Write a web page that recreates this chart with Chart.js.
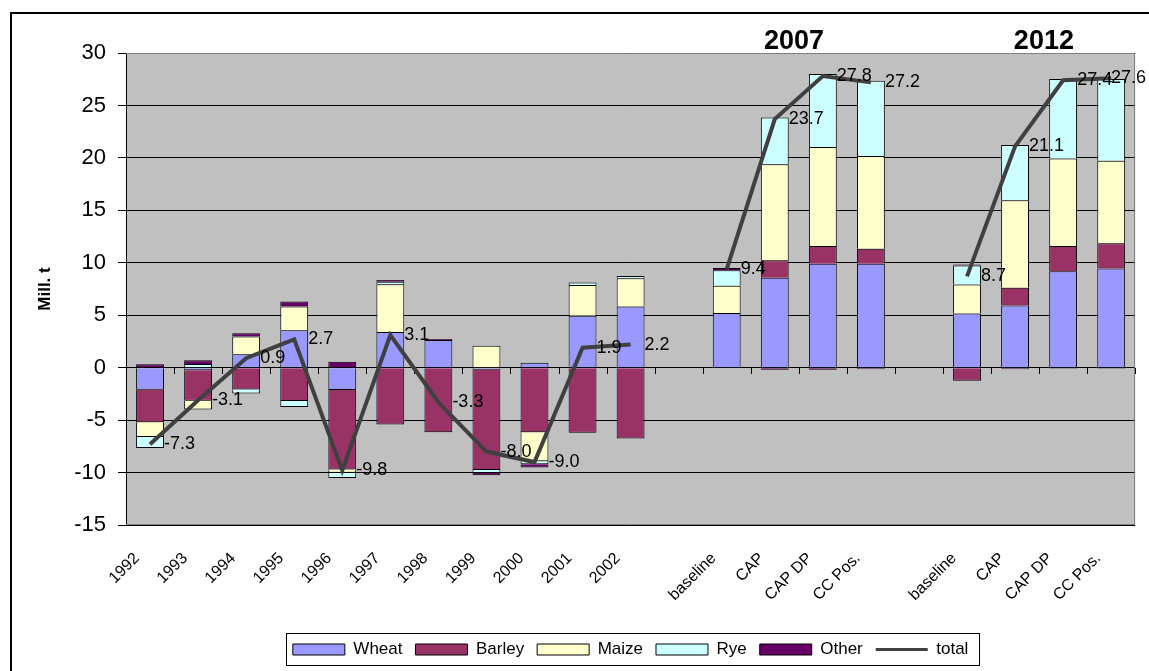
<!DOCTYPE html>
<html lang="en">
<head>
<meta charset="UTF-8">
<title>Change in cereal production</title>
<script src="https://cdn.jsdelivr.net/npm/chart.js@4.4.0/dist/chart.umd.min.js"></script>
<style>
  html, body { margin: 0; padding: 0; background: #fff; }
  #wrap { position: relative; width: 1149px; height: 671px; }
</style>
</head>
<body>
<div id="wrap"><canvas id="grainChart"></canvas></div>
<script>
// categories (empty strings are the gaps between the groups)
const categories = ['1992', '1993', '1994', '1995', '1996', '1997', '1998', '1999', '2000', '2001', '2002', '',
  'baseline', 'CAP', 'CAP DP', 'CC Pos.', '',
  'baseline', 'CAP', 'CAP DP', 'CC Pos.'];

// Mill. t per crop
const wheat  = [-2.1, -0.25, 1.27, 3.57, -2.13, 3.4, 2.64, -0.2, 0.48, 4.94, 5.83, null, 5.22, 8.57, 9.9, 9.9, null, 5.16, 5.92, 9.2, 9.46];
const barley = [-3.1, -2.9, -2.07, -3.18, -7.58, -5.41, -6.15, -9.55, -6.15, -6.21, -6.75, null, 0, 1.66, 1.69, 1.43, null, -1.25, 1.69, 2.39, 2.39];
const maize  = [-1.4, -0.85, 1.7, 2.26, -0.32, 4.55, 0, 2.1, -2.77, 2.93, 2.7, null, 2.6, 9.17, 9.46, 8.85, null, 2.77, 8.34, 8.34, 7.87];
const rye    = [-1.05, 0.35, -0.4, -0.57, -0.48, 0.25, 0, -0.3, -0.3, 0.25, 0.22, null, 1.46, 4.46, 6.94, 7.17, null, 1.8, 5.29, 7.58, 7.8];
const other  = [0.32, 0.35, 0.32, 0.48, 0.57, 0.15, 0.1, -0.2, -0.3, 0, 0, null, 0.22, -0.2, -0.2, -0.15, null, 0.1, -0.15, -0.1, -0.1];
const total  = [-7.3, -3.1, 0.9, 2.7, -9.8, 3.1, -3.3, -8.0, -9.0, 1.9, 2.2, null, 9.4, 23.7, 27.8, 27.2, null, 8.7, 21.1, 27.4, 27.6];

const yTicks = { min: -15, max: 30, step: 5 };
const groupTitles = [{ text: '2007', at: 13.4 }, { text: '2012', at: 18.6 }];

Chart.defaults.font.family = "'Liberation Sans', Arial, sans-serif";
Chart.defaults.color = '#000';

const barSet = (label, data, color) => ({
    type: 'bar', label, data, backgroundColor: color, borderColor: '#000',
    borderWidth: 1, stack: 'crops', order: 1,
    categoryPercentage: 0.58, barPercentage: 1
});

const decor = {
    id: 'decor',
    afterLayout(chart) {
        // centre the legend under the plot area and nudge it up
        const lg = chart.legend, a = chart.chartArea;
        const dx = (a.left + a.right) / 2 - (lg.left + lg.right) / 2;
        lg.left += dx; lg.right += dx;
        lg.top -= 3; lg.bottom -= 3;
    },
    beforeDraw(chart) {
        const { ctx, chartArea: a } = chart;
        ctx.save();
        ctx.fillStyle = '#C0C0C0';
        ctx.fillRect(a.left, a.top, a.right - a.left, a.bottom - a.top);
        ctx.strokeStyle = '#000';
        ctx.lineWidth = 2;
        ctx.beginPath();
        ctx.moveTo(11, chart.height);
        ctx.lineTo(11, 13);
        ctx.lineTo(chart.width, 13);
        ctx.stroke();
        ctx.restore();
    },
    beforeDatasetsDraw(chart) {
        const { ctx, chartArea: a, scales: { x, y } } = chart;
        ctx.save();
        // plot outline
        ctx.strokeStyle = '#808080';
        ctx.lineWidth = 1;
        ctx.beginPath();
        ctx.moveTo(a.left, Math.round(a.top) + 0.5);
        ctx.lineTo(Math.round(a.right) - 0.5, Math.round(a.top) + 0.5);
        ctx.lineTo(Math.round(a.right) - 0.5, Math.round(a.bottom) - 0.5);
        ctx.lineTo(a.left, Math.round(a.bottom) - 0.5);
        ctx.stroke();
        // category ticks on the zero line
        const y0 = Math.round(y.getPixelForValue(0));
        ctx.strokeStyle = '#000';
        ctx.beginPath();
        for (let i = 0; i <= categories.length; i++) {
            const px = Math.round(x.getPixelForValue(i - 0.5)) + 0.5;
            ctx.moveTo(px, y0);
            ctx.lineTo(px, y0 + 6);
        }
        ctx.stroke();
        ctx.restore();
    },
    afterDatasetsDraw(chart) {
        const { ctx, scales: { x } } = chart;
        const meta = chart.getDatasetMeta(5);
        ctx.save();
        ctx.fillStyle = '#000';
        ctx.font = "18px 'Liberation Sans', Arial, sans-serif";
        ctx.textAlign = 'left';
        ctx.textBaseline = 'middle';
        meta.data.forEach((pt, i) => {
            if (total[i] === null) return;
            const txt = total[i].toFixed(1);
            const w = ctx.measureText(txt).width;
            ctx.fillText(txt, Math.min(pt.x + 14, chart.width - 3 - w), pt.y);
        });
        ctx.font = "bold 27px 'Liberation Sans', Arial, sans-serif";
        ctx.textAlign = 'center';
        const step = x.getPixelForValue(1) - x.getPixelForValue(0);
        groupTitles.forEach(g => {
            const base = Math.floor(g.at);
            ctx.fillText(g.text, x.getPixelForValue(base) + (g.at - base) * step, 42);
        });
        ctx.restore();
    },
    afterDraw(chart) {
        const boxes = chart.legend.legendHitBoxes;
        if (!boxes || !boxes.length) return;
        const left = Math.min(...boxes.map(b => b.left)) - 7;
        const right = Math.max(...boxes.map(b => b.left + b.width)) + 10;
        const top = boxes[0].top - 8;
        const ctx = chart.ctx;
        ctx.save();
        ctx.strokeStyle = '#000';
        ctx.lineWidth = 1;
        ctx.strokeRect(Math.round(left) + 0.5, Math.round(top) + 0.5, Math.round(right - left), Math.round(boxes[0].height + 15));
        ctx.restore();
    }
};

new Chart(document.getElementById('grainChart'), {
    data: {
        labels: categories,
        datasets: [
            barSet('Wheat', wheat, '#9999FF'),
            barSet('Barley', barley, '#993366'),
            barSet('Maize', maize, '#FFFFCC'),
            barSet('Rye', rye, '#CCFFFF'),
            barSet('Other', other, '#660066'),
            {
                type: 'line', label: 'total', data: total, stack: 'line', order: 0,
                borderColor: '#404040', backgroundColor: '#404040', borderWidth: 4,
                pointRadius: 0, tension: 0, spanGaps: false
            }
        ]
    },
    options: {
        responsive: true,
        maintainAspectRatio: false,
        animation: false,
        layout: { padding: { left: 10, top: 53, right: 10, bottom: 0 } },
        plugins: {
            tooltip: { enabled: false },
            legend: {
                position: 'bottom',
                labels: {
                    usePointStyle: true,
                    pointStyleWidth: 52,
                    boxHeight: 11,
                    padding: 13,
                    font: { size: 17 },
                    color: '#000',
                    sort: (a, b) => a.datasetIndex - b.datasetIndex,
                    generateLabels: chart => {
                        const items = Chart.defaults.plugins.legend.labels.generateLabels(chart);
                        items.forEach(it => {
                            if (it.datasetIndex === 5) { it.pointStyle = 'line'; it.lineWidth = 3; }
                            else { it.pointStyle = 'rect'; it.lineWidth = 1; }
                        });
                        return items;
                    }
                }
            }
        },
        scales: {
            x: {
                stacked: true,
                grid: { display: false, drawTicks: false },
                border: { display: false },
                ticks: {
                    autoSkip: false, minRotation: 45, maxRotation: 45,
                    padding: 24, labelOffset: -13,
                    font: { size: 16 }, color: '#000'
                },
                afterFit: scale => { scale.height = 106; }
            },
            y: {
                stacked: true,
                min: yTicks.min, max: yTicks.max,
                grid: { color: '#000', tickLength: 8, tickColor: '#000' },
                border: { color: '#000' },
                ticks: { stepSize: yTicks.step, padding: 12, font: { size: 22 }, color: '#000' },
                title: {
                    display: true, text: 'Mill. t',
                    font: { size: 17, weight: 'bold' },
                    padding: { top: 25, bottom: 0 }
                },
                afterFit: scale => { scale.width = 116; }
            }
        }
    },
    plugins: [decor]
});
</script>
</body>
</html>
